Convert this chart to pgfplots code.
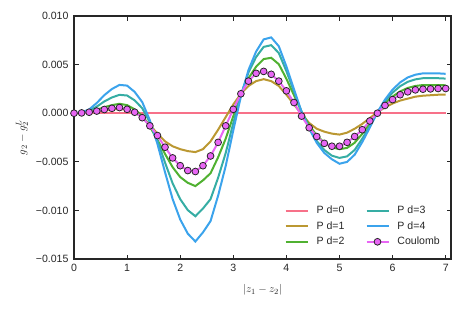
\documentclass[border=0pt]{standalone}
\usepackage{fontspec}
\setmainfont{Liberation Sans}
\usepackage{pgfplots}
\pgfplotsset{compat=1.18}
\usepackage{pgfplotstable}
\definecolor{c0}{HTML}{F77189}
\definecolor{c1}{HTML}{BB9832}
\definecolor{c2}{HTML}{50B131}
\definecolor{c3}{HTML}{36ADA4}
\definecolor{c4}{HTML}{3BA3EC}
\definecolor{c5}{HTML}{E866F4}
\definecolor{ax}{HTML}{262626}
\pgfplotstableread{
x p0 p1 p2 p3 p4 c
0.0000 0 0 0 0 0 0
0.1429 0 0.00002 0.00003 0.00006 0.00009 0.00003
0.2857 0 0.00008 0.00013 0.00025 0.00039 0.0001
0.4286 0 0.00018 0.00035 0.00068 0.00105 0.00022
0.5714 0 0.0003 0.00062 0.00121 0.00186 0.00038
0.7143 0 0.0004 0.00083 0.00162 0.00249 0.0005
0.8571 0 0.00045 0.00097 0.00189 0.00291 0.00058
1.0000 0 0.00035 0.00083 0.00182 0.00284 0.0004
1.1429 0 0.0001 0.0004 0.00132 0.00219 0.0001
1.2857 0 -0.0004 -0.00028 0.00051 0.00114 -0.00046
1.4286 0 -0.0012 -0.00138 -0.00094 -0.00073 -0.0013
1.5714 0 -0.0021 -0.00274 -0.00282 -0.00316 -0.0023
1.7143 0 -0.0029 -0.00419 -0.00508 -0.00607 -0.0035
1.8571 0 -0.0034 -0.00555 -0.00721 -0.00883 -0.0046
2.0000 0 -0.0037 -0.00657 -0.00884 -0.01093 -0.0054
2.1429 0 -0.0039 -0.00716 -0.00997 -0.01239 -0.0059
2.2857 0 -0.0040 -0.0075 -0.0106 -0.0132 -0.0060
2.4286 0 -0.0037 -0.00691 -0.00981 -0.01226 -0.0054
2.5714 0 -0.0029 -0.00618 -0.00884 -0.0111 -0.0044
2.7143 0 -0.0017 -0.00453 -0.00664 -0.00848 -0.0030
2.8571 0 -0.0004 -0.00262 -0.00409 -0.00543 -0.0013
3.0000 0 0.0009 -0.00031 -0.00101 -0.00176 0.0004
3.1429 0 0.0020 0.00187 0.0019 0.00171 0.0020
3.2857 0 0.0028 0.00359 0.00418 0.00444 0.0033
3.4286 0 0.0033 0.00478 0.00577 0.00633 0.0041
3.5714 0 0.0035 0.00557 0.00682 0.00759 0.0043
3.7143 0 0.0033 0.0057 0.0070 0.0078 0.0040
3.8571 0 0.0028 0.00504 0.00619 0.00689 0.0033
4.0000 0 0.0019 0.00354 0.00433 0.00481 0.0023
4.1429 0 0.0009 0.00185 0.00224 0.00247 0.0011
4.2857 0 -0.0001 0.00015 0.00016 0.00013 -0.0003
4.4286 0 -0.0010 -0.00121 -0.00153 -0.00156 -0.0015
4.5714 0 -0.0016 -0.00229 -0.00286 -0.00305 -0.0024
4.7143 0 -0.0019 -0.00304 -0.00379 -0.00409 -0.0031
4.8571 0 -0.0021 -0.00351 -0.00437 -0.00474 -0.0034
5.0000 0 -0.0022 -0.0037 -0.0046 -0.0052 -0.0034
5.1429 0 -0.0020 -0.00357 -0.00444 -0.00501 -0.0030
5.2857 0 -0.0016 -0.00304 -0.00378 -0.00427 -0.0024
5.4286 0 -0.0011 -0.00212 -0.00263 -0.00297 -0.0017
5.5714 0 -0.0005 -0.00106 -0.00132 -0.00148 -0.0008
5.7143 0 0.0001 0.00006 0.00007 0.0001 0.0000
5.8571 0 0.0006 0.00099 0.00122 0.0014 0.0008
6.0000 0 0.0010 0.00171 0.00212 0.00243 0.0014
6.1429 0 0.0013 0.00224 0.00278 0.00317 0.0019
6.2857 0 0.0015 0.0026 0.00323 0.00368 0.0022
6.4286 0 0.0017 0.0028 0.00348 0.00396 0.0024
6.5714 0 0.0018 0.0029 0.0036 0.0041 0.00247
6.7143 0 0.00185 0.0029 0.0036 0.0041 0.0025
6.8571 0 0.0019 0.0029 0.0036 0.0041 0.00254
7.0000 0 0.0019 0.00287 0.00356 0.00405 0.00254
}\data
\begin{document}
\begin{tikzpicture}
\useasboundingbox (-74bp,-50bp) rectangle (389bp,259bp);
\begin{axis}[
  scale only axis, width=377bp, height=243bp,
  xmin=0, xmax=7.1, ymin=-0.015, ymax=0.010,
  xtick={0,1,2,3,4,5,6,7}, xticklabels={0,1,2,3,4,5,6,7},
  ytick={-0.015,-0.01,-0.005,0,0.005,0.01},
  yticklabels={−0.015,−0.010,−0.005,0.000,0.005,0.010},
  scaled ticks=false,
  tick align=inside, major tick length=4.5bp,
  axis line style={ax, line width=1.2bp},
  tick style={ax, line width=0.9bp},
  tick label style={font=\fontsize{10.6}{12}\selectfont, text=ax},
  xticklabel style={yshift=-2bp},
  yticklabel style={xshift=-2bp},
  xlabel={$|z_1 - z_2|$}, ylabel={$g_2 - g_2^L$},
  xlabel style={at={(axis description cs:0.5,-0.128)}, anchor=center, font=\fontsize{11}{12}\selectfont, text=ax},
  ylabel style={at={(axis description cs:-0.138,0.5)}, anchor=center, font=\fontsize{11}{12}\selectfont, text=ax},
  legend style={draw=none, fill=none, font=\fontsize{10.6}{12}\selectfont, text=ax,
    at={(rel axis cs:0.976,0.043)}, anchor=south east, inner sep=0pt, row sep=2.5bp,
    /tikz/every odd column/.append style={column sep=6bp},
    /tikz/every even column/.append style={column sep=19bp}},
  legend columns=3, transpose legend, legend cell align=left,
  legend image code/.code={\draw[mark repeat=2,mark phase=2,#1] plot coordinates {(0bp,0bp) (11bp,0bp) (22bp,0bp)};},
]
\addplot[c0, line width=2bp, no markers] table[x=x,y=p0]{\data}; \addlegendentry{P d=0}
\addplot[c1, line width=2bp, no markers] table[x=x,y=p1]{\data}; \addlegendentry{P d=1}
\addplot[c2, line width=2bp, no markers] table[x=x,y=p2]{\data}; \addlegendentry{P d=2}
\addplot[c3, line width=2bp, no markers] table[x=x,y=p3]{\data}; \addlegendentry{P d=3}
\addplot[c4, line width=2bp, no markers] table[x=x,y=p4]{\data}; \addlegendentry{P d=4}
\addplot[c5, line width=2bp, mark=*, mark size=3.4bp, mark options={fill=c5, draw=ax, line width=0.8bp}] table[x=x,y=c]{\data}; \addlegendentry{Coulomb}
\end{axis}
\end{tikzpicture}
\end{document}
